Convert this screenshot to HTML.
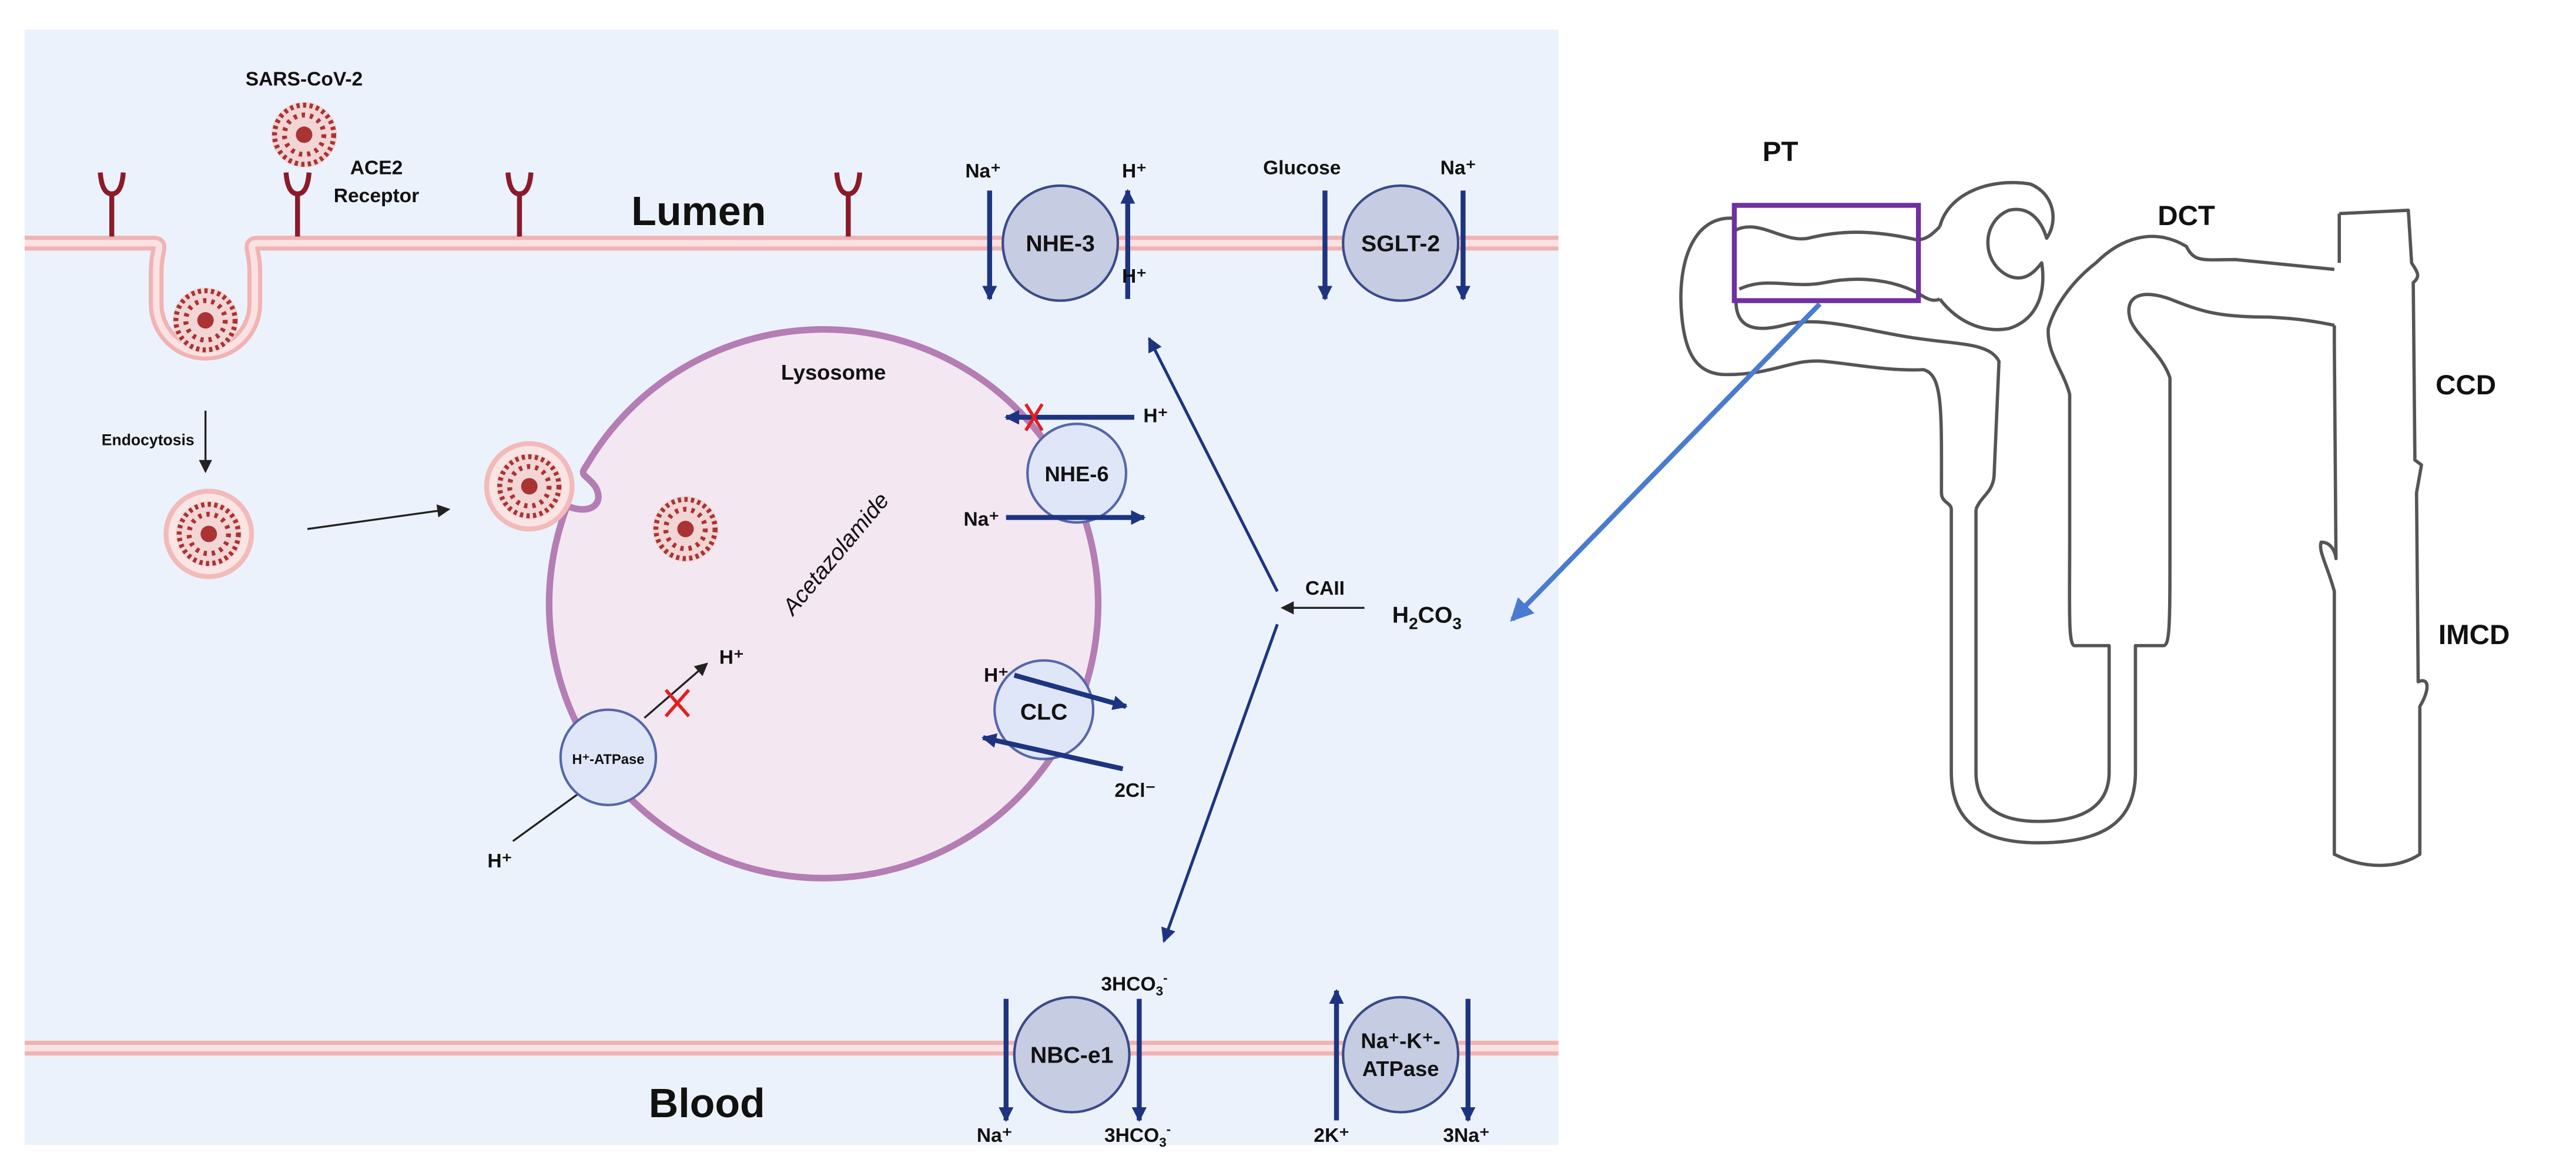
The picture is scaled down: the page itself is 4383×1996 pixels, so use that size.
<!DOCTYPE html>
<html><head><meta charset="utf-8"><style>
html,body{margin:0;padding:0;background:#fff;}
svg{display:block;}
text{font-family:"Liberation Sans",Arial,sans-serif;fill:#111;}
.b{font-weight:bold;}
</style></head><body>
<svg width="4383" height="1996" viewBox="0 0 1567 714" preserveAspectRatio="none" xmlns="http://www.w3.org/2000/svg">
<defs>
<marker id="ak" markerWidth="8" markerHeight="8" refX="7" refY="4" orient="auto" markerUnits="userSpaceOnUse"><path d="M0,0 L8,4 L0,8 z" fill="#222"/></marker>
<marker id="an" markerWidth="9" markerHeight="9" refX="8" refY="4.5" orient="auto" markerUnits="userSpaceOnUse"><path d="M0,0 L9,4.5 L0,9 z" fill="#1d3580"/></marker>
<marker id="ab" markerWidth="14" markerHeight="14" refX="12" refY="7" orient="auto" markerUnits="userSpaceOnUse"><path d="M0,0 L14,7 L0,14 z" fill="#4a7bd0"/></marker>
<g id="virus"><circle r="20" fill="#f3d5d5"/><circle r="18" fill="none" stroke="#a33" stroke-width="3" stroke-dasharray="2 2"/><circle r="12" fill="none" stroke="#a33" stroke-width="3" stroke-dasharray="2 3"/><circle r="5" fill="#a33"/></g>
</defs>
<rect width="1567" height="714" fill="#fff"/>
<rect x="15" y="18" width="933" height="679" fill="#ecf2fb"/>
<path d="M15,148 H93 C100,148 95,152 95,165 V185 A30,30 0 0 0 155,185 V165 C155,152 150,148 157,148 H948" fill="none" stroke="#f0b3b3" stroke-width="9"/>
<path d="M15,148 H93 C100,148 95,152 95,165 V185 A30,30 0 0 0 155,185 V165 C155,152 150,148 157,148 H948" fill="none" stroke="#fbe1e1" stroke-width="4"/>
<use href="#virus" x="125" y="195"/>
<g stroke="#8b1a2a" stroke-width="3" fill="none">
<path d="M68,144 V118 M61,105 Q62,118 68,118 Q74,118 75,105"/>
<path d="M181,144 V118 M174,105 Q175,118 181,118 Q187,118 188,105"/>
<path d="M316,144 V118 M309,105 Q310,118 316,118 Q322,118 323,105"/>
<path d="M516,144 V118 M509,105 Q510,118 516,118 Q522,118 523,105"/>
</g>
<text x="185" y="52" font-size="12" text-anchor="middle" class="b">SARS-CoV-2</text>
<use href="#virus" x="185" y="82"/>
<text x="229" y="106" font-size="12" text-anchor="middle" class="b">ACE2</text>
<text x="229" y="123" font-size="12" text-anchor="middle" class="b">Receptor</text>
<text x="425" y="137" font-size="25" text-anchor="middle" class="b">Lumen</text>
<circle cx="645" cy="148" r="35" fill="#c6cce1" stroke="#3a4a8a" stroke-width="1.5"/>
<text x="645" y="153" font-size="14" text-anchor="middle" class="b">NHE-3</text>
<line x1="602" y1="116" x2="602" y2="182" stroke="#1d3580" stroke-width="3" marker-end="url(#an)"/>
<line x1="686" y1="182" x2="686" y2="116" stroke="#1d3580" stroke-width="3" marker-end="url(#an)"/>
<text x="598" y="108" font-size="12" text-anchor="middle" class="b">Na⁺</text>
<text x="690" y="108" font-size="12" text-anchor="middle" class="b">H⁺</text>
<text x="690" y="172" font-size="12" text-anchor="middle" class="b">H⁺</text>
<circle cx="852" cy="148" r="35" fill="#c6cce1" stroke="#3a4a8a" stroke-width="1.5"/>
<text x="852" y="153" font-size="14" text-anchor="middle" class="b">SGLT-2</text>
<line x1="806" y1="116" x2="806" y2="182" stroke="#1d3580" stroke-width="3" marker-end="url(#an)"/>
<line x1="890" y1="116" x2="890" y2="182" stroke="#1d3580" stroke-width="3" marker-end="url(#an)"/>
<text x="792" y="106" font-size="12" text-anchor="middle" class="b">Glucose</text>
<text x="887" y="106" font-size="12" text-anchor="middle" class="b">Na⁺</text>
<text x="90" y="271" font-size="9.5" text-anchor="middle" class="b" fill="#333">Endocytosis</text>
<line x1="125" y1="250" x2="125" y2="287" stroke="#222" stroke-width="1.2" marker-end="url(#ak)"/>
<circle cx="127" cy="325" r="26" fill="#fbe4e4" stroke="#f2baba" stroke-width="3"/>
<use href="#virus" x="127" y="325"/>
<line x1="187" y1="322" x2="273" y2="310" stroke="#222" stroke-width="1.2" marker-end="url(#ak)"/>
<path d="M357,283 A167,167 0 1 1 345,308 C360,314 368,306 362,296 C356,288 352,290 357,283 Z" fill="#f3e7f1" stroke="#b47db4" stroke-width="4"/>
<circle cx="322" cy="296" r="26" fill="#fbe4e4" stroke="#f2baba" stroke-width="3"/>
<use href="#virus" x="322" y="296"/>
<use href="#virus" x="417" y="322"/>
<text x="507" y="231" font-size="13" text-anchor="middle" class="b">Lysosome</text>
<text transform="translate(512,340) rotate(-50)" font-size="14" text-anchor="middle" font-style="italic" fill="#333">Acetazolamide</text>
<circle cx="655" cy="288" r="30" fill="#dfe6f7" stroke="#5567a8" stroke-width="1.5"/>
<text x="655" y="293" font-size="13" text-anchor="middle" class="b">NHE-6</text>
<line x1="690" y1="254" x2="612" y2="254" stroke="#1d3580" stroke-width="3" marker-end="url(#an)"/>
<path d="M624,246 L634,262 M634,246 L624,262" stroke="#e02020" stroke-width="2"/>
<text x="703" y="257" font-size="12" text-anchor="middle" class="b">H⁺</text>
<line x1="612" y1="315" x2="696" y2="315" stroke="#1d3580" stroke-width="3" marker-end="url(#an)"/>
<text x="597" y="320" font-size="12" text-anchor="middle" class="b">Na⁺</text>
<circle cx="635" cy="432" r="30" fill="#dfe6f7" stroke="#5567a8" stroke-width="1.5"/>
<text x="635" y="438" font-size="14" text-anchor="middle" class="b">CLC</text>
<line x1="617" y1="411" x2="685" y2="430" stroke="#1d3580" stroke-width="3" marker-end="url(#an)"/>
<text x="606" y="415" font-size="12" text-anchor="middle" class="b">H⁺</text>
<line x1="683" y1="468" x2="598" y2="449" stroke="#1d3580" stroke-width="3" marker-end="url(#an)"/>
<text x="678" y="485" font-size="12" class="b">2Cl⁻</text>
<line x1="312" y1="512" x2="352" y2="483" stroke="#222" stroke-width="1.2"/>
<line x1="392" y1="437" x2="430" y2="404" stroke="#222" stroke-width="1.2" marker-end="url(#ak)"/>
<path d="M405,420 L419,436 M419,420 L405,436" stroke="#e02020" stroke-width="2"/>
<circle cx="370" cy="461" r="29" fill="#dfe6f7" stroke="#5567a8" stroke-width="1.5"/>
<text x="370" y="465" font-size="8.5" text-anchor="middle" class="b">H⁺-ATPase</text>
<text x="445" y="404" font-size="12" text-anchor="middle" class="b">H⁺</text>
<text x="304" y="528" font-size="12" text-anchor="middle" class="b">H⁺</text>
<line x1="777" y1="360" x2="699" y2="206" stroke="#1d3580" stroke-width="1.8" marker-end="url(#an)"/>
<line x1="777" y1="380" x2="708" y2="573" stroke="#1d3580" stroke-width="1.8" marker-end="url(#an)"/>
<line x1="830" y1="370" x2="780" y2="370" stroke="#222" stroke-width="1.2" marker-end="url(#ak)"/>
<text x="806" y="362" font-size="12" text-anchor="middle" class="b">CAII</text>
<text x="868" y="379" font-size="14" text-anchor="middle" class="b">H<tspan font-size="10" dy="4">2</tspan><tspan dy="-4">CO</tspan><tspan font-size="10" dy="4">3</tspan></text>
<line x1="15" y1="638" x2="948" y2="638" stroke="#f0b3b3" stroke-width="9"/>
<line x1="15" y1="638" x2="948" y2="638" stroke="#fbe1e1" stroke-width="4"/>
<text x="430" y="680" font-size="25" text-anchor="middle" class="b">Blood</text>
<circle cx="652" cy="642" r="35" fill="#c6cce1" stroke="#3a4a8a" stroke-width="1.5"/>
<text x="652" y="647" font-size="14" text-anchor="middle" class="b">NBC-e1</text>
<line x1="612" y1="608" x2="612" y2="682" stroke="#1d3580" stroke-width="3" marker-end="url(#an)"/>
<line x1="693" y1="608" x2="693" y2="682" stroke="#1d3580" stroke-width="3" marker-end="url(#an)"/>
<text x="690" y="603" font-size="12" text-anchor="middle" class="b">3HCO<tspan font-size="8" dy="3">3</tspan><tspan font-size="8" dy="-8">-</tspan></text>
<text x="605" y="695" font-size="12" text-anchor="middle" class="b">Na⁺</text>
<text x="692" y="695" font-size="12" text-anchor="middle" class="b">3HCO<tspan font-size="8" dy="3">3</tspan><tspan font-size="8" dy="-8">-</tspan></text>
<circle cx="852" cy="642" r="35" fill="#c6cce1" stroke="#3a4a8a" stroke-width="1.5"/>
<text x="852" y="638" font-size="13" text-anchor="middle" class="b">Na⁺-K⁺-</text>
<text x="852" y="655" font-size="13" text-anchor="middle" class="b">ATPase</text>
<line x1="813" y1="682" x2="813" y2="603" stroke="#1d3580" stroke-width="3" marker-end="url(#an)"/>
<line x1="893" y1="608" x2="893" y2="682" stroke="#1d3580" stroke-width="3" marker-end="url(#an)"/>
<text x="810" y="695" font-size="12" text-anchor="middle" class="b">2K⁺</text>
<text x="892" y="695" font-size="12" text-anchor="middle" class="b">3Na⁺</text>
<g fill="none" stroke="#555" stroke-width="2" stroke-linejoin="round">
<path d="M1056,133 C1030,130 1020,160 1023,192 C1025,215 1032,228 1050,228 C1080,228 1090,218 1110,220 C1130,222 1150,226 1170,225 C1182,228 1181,250 1181,300 C1181,306 1187,306 1187,310 L1187,470 C1187,500 1205,513 1240,513 C1280,513 1299,500 1299,470 L1299,393 L1316,393 C1320,393 1320,380 1320,330 L1320,230 C1315,215 1300,205 1296,195 C1292,182 1300,175 1320,182 C1340,190 1350,193 1380,193 C1400,194 1410,196 1420,198"/>
<path d="M1056,140 C1070,133 1085,148 1100,145 C1120,140 1140,140 1166,146 C1172,146 1176,142 1180,138"/>
<path d="M1058,176 C1075,168 1090,176 1110,172 C1130,168 1150,170 1166,178 C1172,182 1176,184 1180,182"/>
<path d="M1056,183 C1056,198 1065,203 1085,198 C1105,192 1130,200 1160,205 C1190,210 1210,208 1216,220 L1213,290 C1212,300 1205,302 1202,310"/>
<path d="M1202,310 L1202,470 C1202,490 1215,500 1240,500 C1268,500 1283,490 1283,470 L1283,393 L1262,393 C1258,393 1259,370 1259,330 L1259,240 C1255,225 1245,215 1246,200 C1250,185 1262,170 1275,160 C1290,145 1310,138 1330,150 C1335,160 1340,158 1360,158 C1380,160 1400,162 1420,164"/>
<path d="M1180,138 C1185,118 1210,108 1235,112 C1250,118 1252,135 1245,145 C1242,135 1235,125 1222,128 C1205,135 1205,160 1222,168 C1232,172 1238,165 1242,160 C1245,180 1238,195 1222,200 C1205,203 1190,195 1180,182"/>
<path d="M1423,130 L1465,128 L1467,160 C1470,165 1473,168 1468,172 L1469,280 L1473,283 L1470,300 L1471,415 C1478,412 1478,420 1472,430 L1472,520 C1460,528 1440,530 1420,520 L1420,360 C1416,345 1410,335 1412,330 C1420,330 1421,340 1421,340 L1420,210 M1423,130 L1423,160 M1420,198 L1420,210"/>
</g>
<rect x="1055" y="125" width="112" height="58" fill="none" stroke="#7030a0" stroke-width="3"/>
<line x1="1107" y1="185" x2="920" y2="377" stroke="#4a7bd0" stroke-width="3" marker-end="url(#ab)"/>
<text x="1083" y="98" font-size="17" text-anchor="middle" class="b">PT</text>
<text x="1330" y="137" font-size="17" text-anchor="middle" class="b">DCT</text>
<text x="1500" y="240" font-size="17" text-anchor="middle" class="b">CCD</text>
<text x="1505" y="392" font-size="17" text-anchor="middle" class="b">IMCD</text>
</svg>
</body></html>
